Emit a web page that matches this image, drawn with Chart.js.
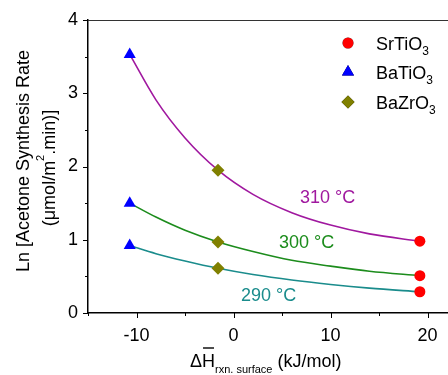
<!DOCTYPE html>
<html>
<head>
<meta charset="utf-8">
<script src="https://cdn.jsdelivr.net/npm/chart.js@4.4.1/dist/chart.umd.min.js"></script>
<style>
  html, body { margin: 0; padding: 0; background: #fff; }
  #wrap { width: 448px; height: 375px; position: relative; }
</style>
</head>
<body>
<div id="wrap"><canvas id="chart"></canvas></div>
<script>
// measured points (x = dH rxn surface, kJ/mol)
const xBaTiO3 = -10.7;
const xBaZrO3 = -1.6;
const xSrTiO3 = 19.2;
const baTiO3 = [3.53, 1.50, 0.92];
const baZrO3 = [1.95, 0.97, 0.61];
const srTiO3 = [0.98, 0.51, 0.29];

// fitted curves
const fitX = [-10.7, -8, -5, -1.6, 2, 6, 10, 14, 19.2];
const fit310 = [3.53, 2.91, 2.39, 1.95, 1.62, 1.37, 1.20, 1.08, 0.98];
const fit300 = [1.50, 1.31, 1.13, 0.97, 0.84, 0.72, 0.64, 0.57, 0.51];
const fit290 = [0.92, 0.81, 0.71, 0.61, 0.525, 0.45, 0.39, 0.34, 0.29];
const curveLabels = ["310 °C", "300 °C", "290 °C"];

// axis ticks
const xTicks = [-15, -10, -5, 0, 5, 10, 15, 20];
const yTicks = [0, 0.5, 1, 1.5, 2, 2.5, 3, 3.5, 4];

const FONT = "Arial, 'Liberation Sans', sans-serif";
const purple = "#a0189f", green = "#1c8c1c", teal = "#1a8c8c";

const pts = (xs, ys) => ys.map((y, i) => ({ x: Array.isArray(xs) ? xs[i] : xs, y: y }));

function curve(data, color) {
  return {
    type: "line", data: pts(fitX, data), borderColor: color, borderWidth: 1.6,
    pointRadius: 0, cubicInterpolationMode: "monotone", fill: false, order: 2
  };
}

function marker(x, ys, color, style, r) {
  return {
    type: "scatter", data: pts(x, ys), backgroundColor: color, borderColor: color,
    pointStyle: style, pointRadius: r, borderWidth: 0, order: 1
  };
}

// draw a string made of [text, size, dy] pieces
function drawPieces(ctx, x, y, pieces, color) {
  ctx.fillStyle = color;
  pieces.forEach(p => {
    ctx.font = p[1] + "px " + FONT;
    ctx.fillText(p[0], x, y + (p[2] || 0));
    x += ctx.measureText(p[0]).width;
  });
}

function piecesWidth(ctx, pieces) {
  let w = 0;
  pieces.forEach(p => { ctx.font = p[1] + "px " + FONT; w += ctx.measureText(p[0]).width; });
  return w;
}

const extras = {
  id: "extras",
  afterDraw(chart) {
    const ctx = chart.ctx;
    const xs = chart.scales.x, ys = chart.scales.y;
    const a = chart.chartArea;
    ctx.save();

    // top frame line
    ctx.strokeStyle = "#333";
    ctx.lineWidth = 1;
    ctx.beginPath();
    ctx.moveTo(a.left, a.top + 0.5);
    ctx.lineTo(448, a.top + 0.5);
    ctx.stroke();

    // tick marks (major + minor)
    ctx.strokeStyle = "#000";
    ctx.lineWidth = 1;
    xTicks.forEach(v => {
      const px = Math.round(xs.getPixelForValue(v)) + 0.5;
      const len = v % 10 === 0 ? 5 : 3;
      ctx.beginPath();
      ctx.moveTo(px, a.bottom);
      ctx.lineTo(px, a.bottom + len);
      ctx.stroke();
    });
    yTicks.forEach(v => {
      const py = Math.round(ys.getPixelForValue(v)) + 0.5;
      const len = Number.isInteger(v) ? 5 : 3;
      ctx.beginPath();
      ctx.moveTo(a.left, py);
      ctx.lineTo(a.left - len, py);
      ctx.stroke();
    });

    // curve labels
    ctx.textBaseline = "alphabetic";
    ctx.font = "18px " + FONT;
    ctx.fillStyle = purple;
    ctx.fillText(curveLabels[0], 300, 203);
    ctx.fillStyle = green;
    ctx.fillText(curveLabels[1], 279, 248);
    ctx.fillStyle = teal;
    ctx.fillText(curveLabels[2], 241, 301);

    // legend
    const rows = [
      ["SrTiO", "red", "circle", 5.5, 43],
      ["BaTiO", "blue", "triangle", 7, 72],
      ["BaZrO", "#808000", "rectRot", 6.5, 102]
    ];
    rows.forEach(r => {
      Chart.helpers.drawPoint(ctx, { pointStyle: r[2], radius: r[3], borderWidth: 0 }, 348, r[4]);
      ctx.fillStyle = r[1];
      ctx.fill();
      drawPieces(ctx, 376, r[4] + 7, [[r[0], 18, 0], ["3", 12, 5]], "#000");
    });

    // y axis title (two rotated lines)
    ctx.save();
    ctx.translate(29, 161);
    ctx.rotate(-Math.PI / 2);
    ctx.textAlign = "center";
    ctx.fillStyle = "#000";
    ctx.font = "18px " + FONT;
    ctx.fillText("Ln [Acetone Synthesis Rate", 0, 0);
    ctx.textAlign = "left";
    const l2 = [["(\u03bcmol/m", 18, 0], ["2", 11, -11], [".min)]", 18, 0]];
    const w = piecesWidth(ctx, l2);
    drawPieces(ctx, -w / 2 - 7, 26, l2, "#000");
    ctx.restore();

    // x axis title
    const t = [["\u0394H", 18, 0], ["rxn. surface", 11, 6], [" (kJ/mol)", 18, 0]];
    ctx.textAlign = "left";
    drawPieces(ctx, 190, 367, t, "#000");
    ctx.font = "18px " + FONT;
    const dW = ctx.measureText("\u0394").width;
    const hW = ctx.measureText("H").width;
    ctx.strokeStyle = "#000";
    ctx.lineWidth = 1.4;
    ctx.beginPath();
    ctx.moveTo(190 + dW + 1, 348);
    ctx.lineTo(190 + dW + hW - 1, 348);
    ctx.stroke();

    ctx.restore();
  }
};

new Chart(document.getElementById("chart"), {
  type: "scatter",
  data: {
    datasets: [
      curve(fit310, purple),
      curve(fit300, green),
      curve(fit290, teal),
      marker(xSrTiO3, srTiO3, "red", "circle", 5.5),
      marker(xBaTiO3, baTiO3, "blue", "triangle", 7),
      marker(xBaZrO3, baZrO3, "#808000", "rectRot", 6.5)
    ]
  },
  options: {
    responsive: true,
    maintainAspectRatio: false,
    animation: false,
    layout: { autoPadding: false, padding: { top: 20, right: 0, left: 0, bottom: 0 } },
    plugins: { legend: { display: false }, tooltip: { enabled: false } },
    scales: {
      x: {
        type: "linear", min: -15, max: 22.1,
        grid: { display: false, tickLength: 5 },
        border: { display: true, color: "#000", width: 1.5 },
        afterBuildTicks: s => { s.ticks = xTicks.map(v => ({ value: v })); },
        ticks: {
          padding: 7, color: "#000", maxRotation: 0, autoSkip: false,
          font: { size: 18, family: FONT },
          callback: v => (v % 10 === 0 ? String(v) : "")
        },
        afterFit: s => { s.height = 62; s.paddingLeft = 0; s.paddingRight = 0; }
      },
      y: {
        type: "linear", min: 0, max: 4,
        grid: { display: false, tickLength: 5 },
        border: { display: true, color: "#000", width: 1.5 },
        afterBuildTicks: s => { s.ticks = yTicks.map(v => ({ value: v })); },
        ticks: {
          padding: 5, color: "#000", autoSkip: false,
          font: { size: 18, family: FONT },
          callback: v => (Number.isInteger(v) ? String(v) : "")
        },
        afterFit: s => { s.width = 88; s.paddingTop = 0; s.paddingBottom = 0; }
      }
    }
  },
  plugins: [extras]
});
</script>
</body>
</html>
